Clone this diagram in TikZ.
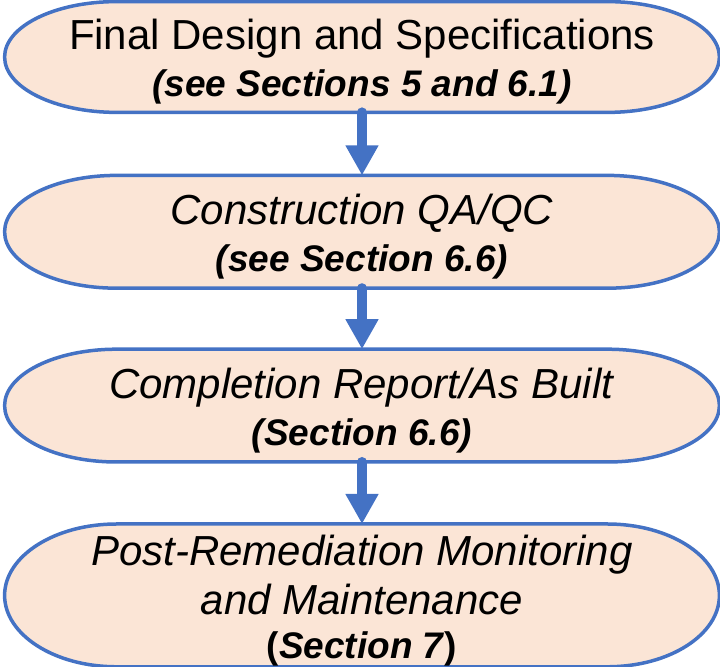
\documentclass[tikz,border=0pt]{standalone}
\usepackage{fontspec}
\setmainfont{Liberation Sans}
\usetikzlibrary{arrows.meta,positioning,backgrounds,calc}
\definecolor{stepfill}{HTML}{FBE5D6}
\definecolor{stepline}{HTML}{4472C4}
\newcommand{\refline}[1]{{\fontsize{18.5}{22.5}\selectfont\bfseries #1}}
\newcommand{\topgap}{\rule{0pt}{20.2pt}}

\begin{document}
\begin{tikzpicture}[
      node distance=31pt,
      box/.style={align=center, font=\fontsize{21}{23.5}\selectfont, minimum width=357pt, minimum height=56pt, inner sep=0pt},
      outline/.style={draw=stepline, fill=stepfill, line width=1.75pt},
      arrow/.style={line width=5pt, line cap=round, draw=stepline, -{Triangle[width=15.5pt,length=15pt]}}
      ]
      \useasboundingbox (0,0) rectangle (360pt,-333.5pt);

      % Nodes
      \node (design) [box, minimum height=55pt] at (181pt,-28.5pt) {\topgap Final Design and Specifications\\ \refline{\textit{(see Sections 5 and 6.1)}}};
      \node (qaqc) [box, below=31.5pt of design] {\topgap\textit{Construction QA/QC}\\ \refline{\textit{(see Section 6.6)}}};
      \node (report) [box, below=30.5pt of qaqc] {\topgap\textit{Completion Report/As Built}\\ \refline{\textit{(Section 6.6)}}};
      \node (monitor) [box, minimum height=71pt, below=of report] {\topgap\textit{Post-Remediation Monitoring}\\[1pt] \textit{and Maintenance}\\[-1.5pt] \refline{(\textit{Section 7})}};

      % Outlines
      \begin{scope}[on background layer]
        \foreach \b in {design,qaqc,report,monitor}
          \draw [outline] let \p1=(\b.north west), \p2=(\b.south east), \n1={0.5*(\y1-\y2)} in
            (\x1+56pt,\y1) -- (\x2-56pt,\y1) arc[start angle=90, end angle=-90, x radius=56pt, y radius=\n1]
            -- (\x1+56pt,\y2) arc[start angle=270, end angle=90, x radius=56pt, y radius=\n1] -- cycle;
      \end{scope}

      % Arrows
      \draw [arrow] (design) -- (qaqc);
      \draw [arrow] (qaqc) -- (report);
      \draw [arrow] (report) -- (monitor);

\end{tikzpicture}
\end{document}
